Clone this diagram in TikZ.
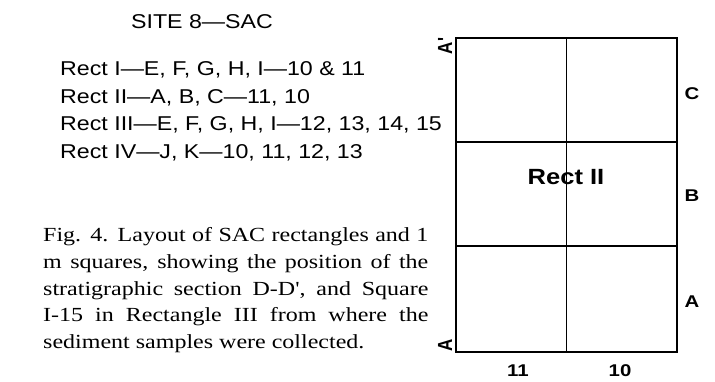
\documentclass[tikz,border=0pt]{standalone}
\usepackage{fontspec}
\usepackage{graphicx}
\setmainfont{Liberation Serif}
\setsansfont{Liberation Sans}
% text in this figure is set slightly wide
\newcommand{\wtext}[1]{\scalebox{1.2}[1]{#1}}
\newcommand{\stext}[1]{\scalebox{1.16}[1]{#1}}
\newcommand{\vtext}[1]{\scalebox{1}[1.2]{#1}}

\begin{document}
\begin{tikzpicture}[x=1pt,y=-1pt,
  listtext/.style={inner sep=0pt,font=\sffamily\fontsize{20}{24}\selectfont},
  gridlbl/.style={inner sep=0pt,font=\sffamily\bfseries\fontsize{17}{20}\selectfont},
  border/.style={line width=1.8pt},
  divider/.style={line width=1.1pt}]
\useasboundingbox (0,0) rectangle (715,382);

% heading and rectangle list
\node[listtext,anchor=base] (site) at (202,29) {\stext{SITE 8—SAC}};
\node[listtext,anchor=base west] (r1) at (60,75.5) {\stext{Rect I—E, F, G, H, I—10 \& 11}};
\node[listtext,anchor=base west] (r2) at (60,103.3) {\stext{Rect II—A, B, C—11, 10}};
\node[listtext,anchor=base west] (r3) at (60,131) {\stext{Rect III—E, F, G, H, I—12, 13, 14, 15}};
\node[listtext,anchor=base west] (r4) at (60,158.8) {\stext{Rect IV—J, K—10, 11, 12, 13}};

% caption
\node[anchor=base west,inner sep=0pt,font=\rmfamily\fontsize{20}{26.6}\selectfont] (cap) at (43,242)
  {\wtext{\parbox[t]{321pt}{%
    \makebox[321pt][s]{Fig. 4. Layout of SAC rectangles and 1}\\
    \makebox[321pt][s]{m squares, showing the position of the}\\
    \makebox[321pt][s]{stratigraphic section D-D\textquotesingle, and Square}\\
    \makebox[321pt][s]{I-15 in Rectangle III from where the}\\
    sediment samples were collected.}}};

% Rectangle II: 1 m squares
\coordinate (nw) at (456,38);
\coordinate (se) at (677,352);
\draw[divider] (566.5,38) -- (566.5,352);
\draw[divider] (456,142) -- (677,142);
\draw[divider] (456,246) -- (677,246);
\draw[border] (nw) rectangle (se);

\node[inner sep=0pt,anchor=base,font=\sffamily\bfseries\fontsize{22}{26}\selectfont] (rect) at (566,185) {\stext{Rect II}};

% row and column labels
\node[gridlbl] (rowC) at (692,94) {\wtext{C}};
\node[gridlbl] (rowB) at (692,196) {\wtext{B}};
\node[gridlbl] (rowA) at (692,302) {\wtext{A}};
\node[gridlbl] (col11) at (518,371) {\wtext{11}};
\node[gridlbl] (col10) at (620,371) {\wtext{10}};

% section line ends
\node[gridlbl,rotate=90] (atop) at (445,46) {\vtext{A\textquotesingle}};
\node[gridlbl,rotate=90] (abot) at (445,345) {\vtext{A}};
\end{tikzpicture}
\end{document}
